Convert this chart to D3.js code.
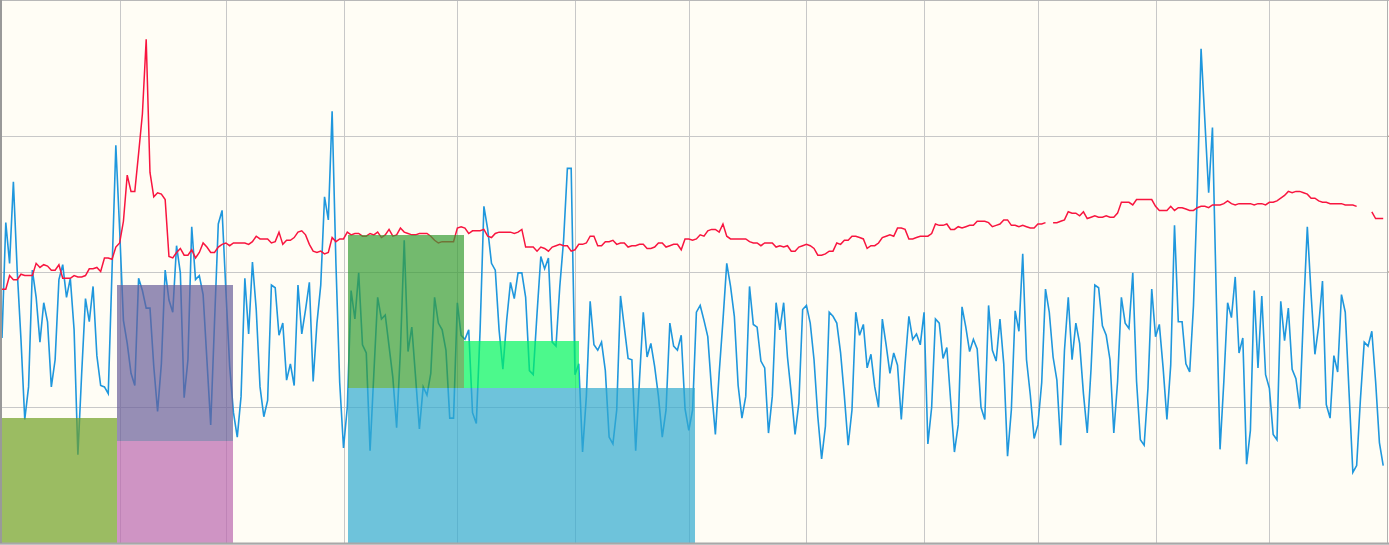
<!DOCTYPE html>
<html>
<head>
<meta charset="utf-8">
<script src="https://cdn.jsdelivr.net/npm/d3@7"></script>
<style>
    html, body { margin: 0; padding: 0; background: #fffdf5; }
    svg { display: block; }
</style>
</head>
<body>
<svg id="chart" width="1389" height="545"></svg>
<script>
const WIDTH = 1389;
const HEIGHT = 545;
const PLOT = { left: 2, right: 1387, top: 0, bottom: 543 };

const MONTHS = ['Jan', 'Feb', 'Mar', 'Apr', 'May', 'Jun', 'Jul', 'Aug', 'Sep', 'Oct', 'Nov', 'Dec'];
const START = new Date(Date.UTC(2019, 0, 1));
const END = new Date(Date.UTC(2020, 0, 1));
const Y_MAX = 400;
const Y_GRID = [100, 200, 300];

// one value per day, Jan 1 .. Dec 31
const blueValues = [
    151, 236, 206, 266, 201, 150, 91, 115, 201, 181,
    148, 177, 163, 115, 135, 194, 205, 181, 195, 157,
    65, 125, 180, 163, 189, 138, 116, 115, 110, 201,
    293, 231, 164, 147, 125, 116, 195, 186, 173, 173,
    130, 97, 132, 201, 179, 170, 219, 199,
    107, 135, 233, 194, 197, 183, 135, 87, 162, 235, 245, 186, 130, 96, 78, 108,
    195, 154, 207, 172, 115, 93, 105, 190, 188, 153, 162, 120, 132, 116, 190, 154,
    172, 192, 119, 162, 190, 255, 238, 318, 206, 118, 70, 100, 186, 165, 199,
    146, 140, 68, 125, 181, 165, 168, 145, 122, 85, 142, 223, 141, 159, 122, 84,
    115, 109, 125, 181, 162, 157, 142, 92, 92, 177, 153, 150, 157, 96, 88, 157,
    248, 231, 206, 201, 157, 128, 164, 192, 180, 199, 199, 181, 127, 124, 169,
    211, 202, 210, 148, 145, 189, 223, 276, 276, 124, 132, 67, 108, 178, 146, 142,
    148, 127, 78, 73, 98, 182, 159, 136, 135, 68, 120, 170, 137, 147, 130, 108,
    78, 98, 162, 145, 142, 153, 99, 83, 98, 170, 175, 164, 152, 113, 80, 125, 164,
    206, 189, 167, 116, 92, 108, 189, 161, 159, 134, 129, 81, 108, 177, 157, 177,
    137, 110, 80, 103, 172, 175, 162, 135, 93, 62, 86, 170, 167, 162, 140, 108,
    72, 98, 170, 153, 161, 129, 139, 115, 100, 165, 146, 125, 140, 131, 91,
    132, 167, 150, 154, 146, 170, 73, 100, 165, 162, 136, 144, 105, 67, 87, 174,
    159, 141, 150, 143, 100, 91, 175, 142, 134, 165, 132, 64, 98, 171, 156, 213,
    135, 109, 77, 87, 118, 187, 170, 137, 120, 72, 142, 181, 135, 162, 147, 110, 81,
    128, 190, 188, 160, 153, 135, 81, 119, 181, 162, 158, 199, 119, 76, 72, 114,
    187, 152, 161, 129, 91, 131, 234, 163, 163, 132, 126, 175, 257, 364, 311, 258,
    306, 183, 69, 119, 177, 166, 196, 140, 151, 58, 83, 186, 129, 182, 124, 114,
    80, 76, 178, 149, 173, 128, 121, 99, 170, 233, 183, 139, 160, 193, 102, 92,
    138, 126, 183, 170, 111, 52, 57, 106, 148, 145, 156, 119, 74, 57
];

const redValues = [
    187, 187, 197, 194, 194, 198, 197, 197, 197, 206, 203, 205, 204, 201, 201, 205,
    195, 195, 195, 197, 196, 196, 197, 202, 202, 203, 200, 210, 210, 209, 218, 221,
    237, 271, 259, 259, 287, 316, 371, 273, 255, 258, 257, 253, 211, 210, 214, 217,
    212, 212, 216, 210, 214, 221, 218, 214, 214, 218, 220, 221, 219, 221, 221, 221,
    221, 220, 222, 226, 224, 224, 224, 221, 222, 229, 220, 223, 223, 225, 229, 230,
    227, 220, 215, 214, 215, 213, 214, 225, 222, 224, 224, 229, 227, 228, 228,
    226, 226, 228, 227, 229, 225, 227, 231, 226, 227, 232, 229, 228, 227, 227, 228,
    228, 228, 226, 223, 221, 222, 222, 222, 222, 232, 233, 232, 228, 230, 230, 230,
    231, 226, 225, 228, 229, 229, 229, 229, 228, 229, 231, 218, 218, 218, 215,
    218, 217, 215, 218, 219, 220, 219, 219, 215, 216, 220, 220, 221, 226, 226, 219,
    219, 222, 222, 223, 220, 221, 221, 218, 219, 219, 220, 220, 217, 217, 218, 221,
    221, 218, 219, 220, 220, 216, 224, 224, 223, 224, 227, 226, 230, 231, 231, 229, 235,
    226, 224, 224, 224, 224, 224, 222, 221, 221, 219, 221, 221, 221, 218, 219, 218,
    219, 215, 215, 218, 219, 220, 219, 217, 212, 212, 213, 215, 215, 221, 220, 223,
    223, 226, 226, 225, 224, 217, 219, 219, 221, 225, 226, 227, 226, 232, 232,
    231, 224, 224, 225, 226, 226, 226, 228, 235, 234, 234, 235, 231, 231, 233, 232,
    233, 234, 234, 237, 237, 237, 236, 233, 234, 235, 238, 238, 234, 234, 233, 234,
    233, 232, 232, 235, 235, 236, null, 236, 236, 237, 238, 244, 243, 243, 241, 244, 239, 240,
    241, 240, 240, 241, 240, 240, 243, 251, 251, 251, 249, 253, 253, 253, 253, 253,
    248, 245, 245, 245, 248, 245, 247, 247, 246, 245, 245, 247, 248, 248, 247, 249,
    249, 249, 250, 252, 250, 249, 250, 250, 250, 250, 249, 250, 250, 249, 251, 251,
    252, 254, 256, 259, 258, 259, 259, 258, 257, 254, 254, 252, 251, 251, 250, 250,
    250, 250, 249, 249, 249, 248, null, null, null, 244, 239, 239, 239
];

// monthly blocks, stacked in this key order
const oliveValues  = [92, 0, 0, 0, 0, 0, 0, 0, 0, 0, 0, 0];
const pinkValues   = [0, 75, 0, 0, 0, 0, 0, 0, 0, 0, 0, 0];
const cyanValues   = [0, 0, 0, 114, 114, 114, 0, 0, 0, 0, 0, 0];
const purpleValues = [0, 115, 0, 0, 0, 0, 0, 0, 0, 0, 0, 0];
const greenValues  = [0, 0, 0, 113, 0, 0, 0, 0, 0, 0, 0, 0];
const limeValues   = [0, 0, 0, 0, 35, 0, 0, 0, 0, 0, 0, 0];

const barSeries = [
    { key: 'olive', values: oliveValues, color: 'rgb(112,160,35)' },
    { key: 'pink', values: pinkValues, color: 'rgb(186,103,175)' },
    { key: 'cyan', values: cyanValues, color: 'rgb(48,170,208)' },
    { key: 'purple', values: purpleValues, color: 'rgb(105,94,154)' },
    { key: 'green', values: greenValues, color: 'rgb(56,156,52)' },
    { key: 'lime', values: limeValues, color: 'rgb(0,246,95)' }
];

const svg = d3.select('#chart');

const x = d3.scaleUtc()
    .domain([START, END])
    .range([PLOT.left, PLOT.right]);

const y = d3.scaleLinear()
    .domain([0, Y_MAX])
    .range([PLOT.bottom, PLOT.top]);

const band = d3.scaleBand()
    .domain(MONTHS)
    .range([PLOT.left, PLOT.right])
    .padding(0);

const dayOf = (i) => d3.utcDay.offset(START, i);

svg.append('rect')
    .attr('width', WIDTH)
    .attr('height', HEIGHT)
    .attr('fill', '#fffdf5');

// grid
svg.append('g')
    .selectAll('line')
    .data(x.ticks(d3.utcMonth.every(1)).filter((d) => d > START && d < END))
    .join('line')
    .attr('x1', (d) => Math.round(x(d)) + 0.5)
    .attr('x2', (d) => Math.round(x(d)) + 0.5)
    .attr('y1', PLOT.top)
    .attr('y2', PLOT.bottom)
    .attr('stroke', '#c8c8c8');

svg.append('g')
    .selectAll('line')
    .data(Y_GRID)
    .join('line')
    .attr('x1', PLOT.left)
    .attr('x2', PLOT.right)
    .attr('y1', (d) => Math.round(y(d)) + 0.5)
    .attr('y2', (d) => Math.round(y(d)) + 0.5)
    .attr('stroke', '#c8c8c8');

// lines
const line = d3.line()
    .defined((d) => d != null)
    .x((d, i) => x(dayOf(i)))
    .y((d) => y(d));

svg.append('path')
    .datum(blueValues)
    .attr('d', line)
    .attr('fill', 'none')
    .attr('stroke', '#1f97dd')
    .attr('stroke-width', 1.6);

svg.append('path')
    .datum(redValues)
    .attr('d', line)
    .attr('fill', 'none')
    .attr('stroke', '#f8153f')
    .attr('stroke-width', 1.5);

// stacked monthly blocks
const table = MONTHS.map((m, i) => {
    const row = { month: m };
    barSeries.forEach((s) => { row[s.key] = s.values[i]; });
    return row;
});

const stacked = d3.stack().keys(barSeries.map((s) => s.key))(table);

svg.append('g')
    .selectAll('g')
    .data(stacked)
    .join('g')
    .attr('fill', (d, i) => barSeries[i].color)
    .attr('fill-opacity', 0.7)
    .selectAll('rect')
    .data((d) => d.filter((p) => p[1] > p[0]))
    .join('rect')
    .attr('shape-rendering', 'crispEdges')
    .attr('x', (p) => band(p.data.month))
    .attr('width', band.bandwidth())
    .attr('y', (p) => y(p[1]))
    .attr('height', (p) => y(p[0]) - y(p[1]));

// frame
svg.append('rect')
    .attr('x', 0)
    .attr('y', PLOT.bottom)
    .attr('width', WIDTH)
    .attr('height', HEIGHT - PLOT.bottom)
    .attr('fill', '#dcdcdc');

svg.append('line')
    .attr('x1', 0).attr('x2', WIDTH)
    .attr('y1', PLOT.bottom + 0.5).attr('y2', PLOT.bottom + 0.5)
    .attr('stroke', '#a8a8a8')
    .attr('stroke-width', 2);

svg.append('line')
    .attr('x1', 0).attr('x2', WIDTH)
    .attr('y1', 0.5).attr('y2', 0.5)
    .attr('stroke', '#b8b8b8');

svg.append('line')
    .attr('x1', 1).attr('x2', 1)
    .attr('y1', 0).attr('y2', PLOT.bottom)
    .attr('stroke', '#999')
    .attr('stroke-width', 2);

svg.append('line')
    .attr('x1', PLOT.right + 0.5).attr('x2', PLOT.right + 0.5)
    .attr('y1', 0).attr('y2', PLOT.bottom)
    .attr('stroke', '#b0b0b0');

// little ticks on the right edge
svg.append('g')
    .attr('transform', `translate(${PLOT.right + 1},0)`)
    .call(d3.axisRight(y).tickValues(Y_GRID).tickSize(2).tickFormat(''))
    .call((g) => g.select('.domain').remove())
    .selectAll('line')
    .attr('stroke', '#a08a70');
</script>
</body>
</html>
